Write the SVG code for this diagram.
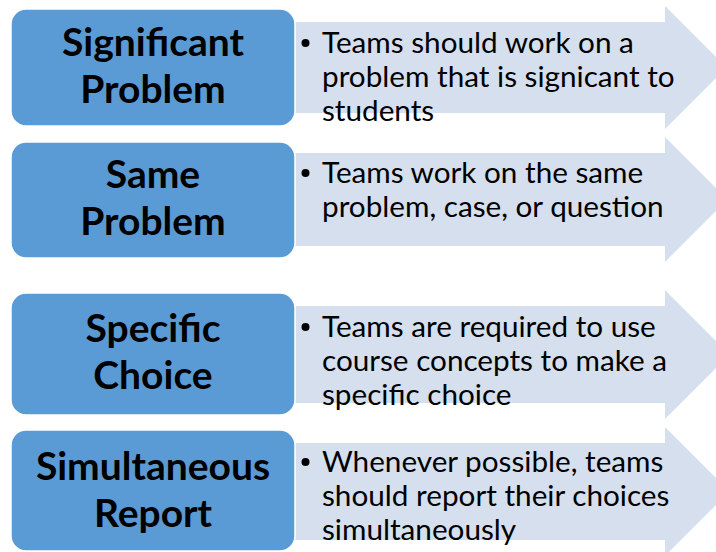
<svg xmlns="http://www.w3.org/2000/svg" width="716" height="552" viewBox="0 0 716 552">
  <style>
    .box { fill: #5b9bd5; stroke: #ffffff; stroke-width: 1.5; }
    .arrow { fill: #d5dfee; }
    .label { font-family: "Lato", "Liberation Sans", sans-serif; font-weight: 700; font-size: 39px; fill: #000000; text-anchor: middle; }
    .body { font-family: "Lato", "Liberation Sans", sans-serif; font-size: 29.7px; fill: #000000; }
    .dot { fill: #000000; }
  </style>
  <rect width="716" height="552" fill="#ffffff"/>

  <!-- detail arrows, drawn first so each label box overlaps the arrow tail -->
  <g id="detail-significant">
    <path class="arrow" d="M280,22 H665 V6 L726.5,67.5 L665,129 V113 H280 Z"/>
    <circle class="dot" cx="305.5" cy="43" r="4"/>
    <text class="body" x="322" y="53">Teams should work on a</text>
    <text class="body" x="322" y="87">problem that is signicant to</text>
    <text class="body" x="322" y="121">students</text>
  </g>
  <g id="detail-same">
    <path class="arrow" d="M280,153 H665 V137 L727.5,199.5 L665,262 V246 H280 Z"/>
    <circle class="dot" cx="305.5" cy="173" r="4"/>
    <text class="body" x="322" y="183">Teams work on the same</text>
    <text class="body" x="322" y="217">problem, case, or question</text>
  </g>
  <g id="detail-specific">
    <path class="arrow" d="M280,306 H665 V290 L729.5,354.5 L665,419 V403 H280 Z"/>
    <circle class="dot" cx="305.5" cy="327" r="4"/>
    <text class="body" x="322" y="337">Teams are required to use</text>
    <text class="body" x="322" y="371">course concepts to make a</text>
    <text class="body" x="322" y="405">specific choice</text>
  </g>
  <g id="detail-simultaneous">
    <path class="arrow" d="M280,443 H665 V427 L729.5,491.5 L665,556 V540 H280 Z"/>
    <circle class="dot" cx="305.5" cy="462" r="4"/>
    <text class="body" x="322" y="472">Whenever possible, teams</text>
    <text class="body" x="322" y="506">should report their choices</text>
    <text class="body" x="322" y="540">simultaneously</text>
  </g>

  <!-- label boxes -->
  <g id="node-significant">
    <rect class="box" x="11" y="9" width="284" height="117" rx="15"/>
    <text class="label" x="153" y="56">Significant</text>
    <text class="label" x="153" y="103">Problem</text>
  </g>
  <g id="node-same">
    <rect class="box" x="11" y="142" width="284" height="116" rx="15"/>
    <text class="label" x="153" y="188">Same</text>
    <text class="label" x="153" y="235">Problem</text>
  </g>
  <g id="node-specific">
    <rect class="box" x="11" y="293" width="284" height="122" rx="15"/>
    <text class="label" x="153" y="342">Specific</text>
    <text class="label" x="153" y="389">Choice</text>
  </g>
  <g id="node-simultaneous">
    <rect class="box" x="11" y="430" width="284" height="121" rx="15"/>
    <text class="label" x="153" y="480">Simultaneous</text>
    <text class="label" x="153" y="527">Report</text>
  </g>
</svg>
